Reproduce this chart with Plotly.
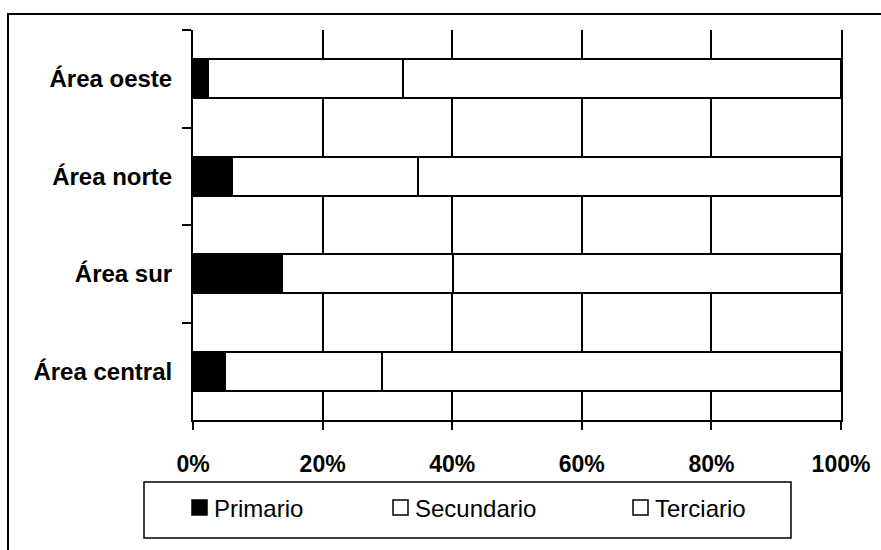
import plotly.graph_objects as go

# Sector shares by area (percent of total)
categories = ["Área oeste", "Área norte", "Área sur", "Área central"]
primario = [2.3, 6.0, 13.7, 4.9]
secundario = [30.1, 28.7, 26.4, 24.3]
terciario = [67.6, 65.3, 59.9, 70.8]

series_names = ["Primario", "Secundario", "Terciario"]
series_fill = ["#000000", "#ffffff", "#ffffff"]
x_ticks = [0, 20, 40, 60, 80, 100]

W, H = 881, 550
# plot area in page pixels: x 193..841, y 30..420
L, T = 193, 30
R, B = W - 841, H - 420
PW, PH = W - L - R, H - T - B


def px_x(px):
    """page pixel x -> paper x"""
    return (px - L) / PW


def px_y(py):
    """page pixel y -> paper y"""
    return (H - B - py) / PH


fig = go.Figure()

for name, vals, fill in zip(series_names, [primario, secundario, terciario], series_fill):
    fig.add_trace(go.Bar(
        y=categories,
        x=vals,
        name=name,
        orientation="h",
        marker=dict(color=fill, line=dict(color="black", width=2)),
        showlegend=False,
        hovertemplate="%{y}: %{x:.1f}%<extra>" + name + "</extra>",
    ))

font_family = "Liberation Sans, Arial, sans-serif"

fig.update_layout(
    width=W, height=H,
    margin=dict(l=L, r=R, t=T, b=B),
    barmode="stack",
    bargap=0.6,
    plot_bgcolor="white",
    paper_bgcolor="white",
    font=dict(family=font_family, color="black"),
)

fig.update_xaxes(
    range=[0, 100],
    tickvals=x_ticks,
    ticktext=[f"{v}%" for v in x_ticks],
    tickfont=dict(size=23, family=font_family, color="black", weight="bold"),
    showgrid=True, gridcolor="black", gridwidth=1.5,
    showline=True, linecolor="black", linewidth=2,
    ticks="outside", ticklen=8, tickcolor="black", tickwidth=1.5,
    ticklabelstandoff=14,
    zeroline=False,
)
fig.update_yaxes(
    autorange="reversed",
    tickson="boundaries",
    showgrid=False,
    showline=True, linecolor="black", linewidth=2, mirror=True,
    ticks="outside", ticklen=9, tickcolor="black", tickwidth=2,
    tickfont=dict(size=24, family=font_family, color="black", weight="bold"),
    ticklabelstandoff=14,
)

# outer frame of the scanned figure (only top/left edges fall inside the page)
fig.add_shape(type="rect", xref="paper", yref="paper",
              x0=px_x(8), x1=px_x(900), y0=px_y(14), y1=px_y(570),
              line=dict(color="black", width=2), fillcolor="rgba(0,0,0,0)")

# legend box
fig.add_shape(type="rect", xref="paper", yref="paper",
              x0=px_x(144), x1=px_x(791), y0=px_y(482), y1=px_y(538),
              line=dict(color="black", width=1.5), fillcolor="white")

legend_x = [192, 393, 633]
for name, fill, lx in zip(series_names, series_fill, legend_x):
    fig.add_shape(type="rect", xref="paper", yref="paper",
                  x0=px_x(lx), x1=px_x(lx + 15), y0=px_y(500), y1=px_y(515),
                  fillcolor=fill, line=dict(color="black", width=1.5))
    fig.add_annotation(x=px_x(lx + 20), y=px_y(508), xref="paper", yref="paper",
                       text=name, showarrow=False, xanchor="left", yanchor="middle",
                       font=dict(size=24, family=font_family, color="black"))

# drop the default 8px page margin so the figure sits at the window origin
fig.write_html("out.html",
               config={"displayModeBar": False},
               post_script="document.body.style.margin='0';document.body.style.overflow='hidden';")
